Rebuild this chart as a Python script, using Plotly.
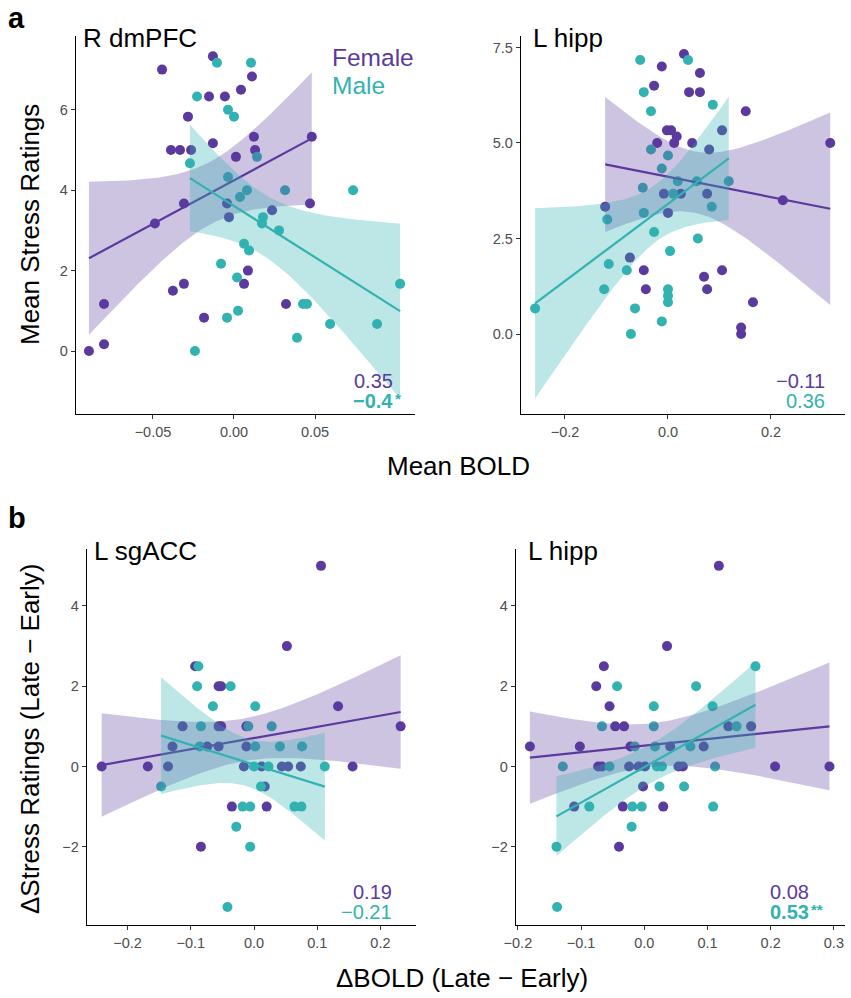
import math
import numpy as np
import plotly.graph_objects as go

# ---------------- data ----------------
# (a) R dmPFC: mean BOLD vs mean stress ratings
dmpfc_f_x = [-0.013, -0.0444, 0.0111, -0.0154, -0.0056, 0.0043, -0.0284, 0.0123, -0.013, -0.0389,
             -0.0333, -0.0265, 0.013, 0.0012, 0.048, -0.0309, -0.0043, -0.0031, -0.0488, 0.0469,
             0.0235, 0.0086, 0.0062, -0.0377, -0.0309, -0.0802, -0.0185, 0.0321, -0.0895, -0.0802]
dmpfc_f_y = [7.33, 7.0, 6.83, 6.33, 6.33, 6.5, 5.83, 5.33, 5.17, 5.0,
             5.0, 5.0, 5.0, 4.83, 5.33, 3.67, 3.67, 3.33, 3.17, 3.67,
             3.5, 2.0, 1.67, 1.5, 1.67, 1.17, 0.83, 1.17, 0.0, 0.17]
dmpfc_m_x = [-0.0105, 0.0105, -0.0228, -0.0037, 0.0, -0.0272, 0.0142, -0.0037, 0.0037, 0.008,
             0.0315, 0.0735, 0.0179, 0.0173, 0.0278, 0.0062, 0.0093, -0.008, 0.0019, -0.0043,
             0.0025, -0.0241, 0.1025, 0.0426, 0.045, 0.0593, 0.0883, 0.0389]
dmpfc_m_y = [7.17, 7.17, 6.33, 6.0, 5.83, 4.67, 4.83, 4.33, 3.83, 4.0,
             4.0, 4.0, 3.33, 3.17, 3.0, 2.67, 2.5, 2.17, 1.83, 0.83,
             1.0, 0.0, 1.67, 1.17, 1.17, 0.67, 0.67, 0.33]

# (a) L hipp
hippa_f_x = [0.031, -0.012, 0.062, -0.027, 0.041, 0.062, 0.151, 0.105, -0.002, 0.006,
             0.017, -0.021, 0.012, 0.047, 0.080, 0.315, -0.008, 0.025, 0.076, 0.223,
             0.0, -0.122, -0.074, -0.047, -0.043, 0.070, 0.076, 0.105, 0.165, 0.142, 0.142]
hippa_f_y = [7.33, 7.0, 6.83, 6.5, 6.33, 6.33, 5.83, 5.33, 5.33, 5.33,
             5.17, 5.0, 5.0, 5.0, 4.83, 5.0, 3.67, 3.67, 3.67, 3.5,
             3.17, 3.33, 2.0, 1.67, 1.17, 1.5, 1.17, 1.67, 0.83, 0.17, 0.0]
hippa_m_x = [-0.054, 0.039, -0.047, -0.033, 0.087, -0.033, 0.0, -0.012, -0.049, 0.019,
             0.056, 0.118, 0.010, 0.085, -0.047, -0.027, -0.118, 0.058, 0.004, -0.115,
             -0.080, -0.124, -0.258, 0.0, 0.0, 0.0, -0.064, -0.012, -0.072]
hippa_m_y = [7.17, 7.17, 6.33, 5.83, 6.0, 4.83, 4.67, 4.33, 3.83, 4.0,
             4.0, 4.0, 3.67, 3.33, 3.17, 2.67, 3.0, 2.5, 2.17, 1.83,
             1.67, 1.17, 0.67, 1.17, 1.0, 0.83, 0.67, 0.33, 0.0]

# (b) L sgACC: change in BOLD vs change in stress ratings
sgacc_f_x = [-0.241, -0.168, -0.136, -0.093, -0.056, -0.052, -0.113, -0.056, -0.052, -0.129,
             -0.074, -0.056, -0.016, -0.035, -0.084, -0.012, -0.012, 0.106, 0.052, 0.133,
             0.232, 0.156, 0.020, 0.017, 0.012, 0.044, 0.054, 0.074]
sgacc_f_y = [0, 0, 0, 2.5, 2, 2, 1, 1, 1, 0.5,
             0.5, 0.5, 0, -1, -2, 1, 0.5, 5, 3, 1.5,
             1, 0, -1, -0.5, 0, 0, 0, 0]
sgacc_m_x = [-0.088, -0.090, -0.037, -0.065, 0.002, -0.084, -0.009, 0.028, -0.086, 0.002,
             0.041, 0.076, -0.147, 0.0, 0.023, 0.112, 0.011, -0.018, -0.006, 0.064,
             0.075, -0.028, -0.006, -0.042]
sgacc_m_y = [2.5, 2, 2, 1.5, 1.5, 1, 1, 1, 0.5, 0.5,
             0.5, 0.5, -0.5, 0, 0, 0, -0.5, -1, -1, -1,
             -1, -1.5, -2, -3.5]

# (b) L hipp
hippb_f_x = [-0.181, -0.102, -0.064, -0.076, -0.055, 0.036, -0.046, -0.032, -0.022, 0.041,
             0.094, -0.073, -0.067, -0.024, -0.009, 0.001, 0.054, 0.061, -0.002, -0.111,
             -0.034, 0.030, -0.040, 0.118, 0.133, 0.169, 0.207, 0.293]
hippb_f_y = [0.5, 0.5, 2.5, 2, 1.5, 3, 1, 1, 0.5, 0.5,
             0.5, 0, 0, 0, 0, 0, 0, 0, -0.5, -1,
             -1, -1, -2, 5, 1, 1, 0, 0]
hippb_m_x = [-0.129, -0.043, 0.082, 0.015, 0.108, -0.067, 0.015, 0.146, -0.015, 0.017,
             0.073, -0.055, 0.020, 0.028, 0.112, 0.024, 0.063, -0.087, -0.019, -0.004,
             0.109, -0.020, -0.139, -0.138, 0.176]
hippb_m_y = [0, 2, 2, 1.5, 1.5, 1, 1, 1, 0.5, 0.5,
             0.5, 0, 0, 0, 0, -0.5, -0.5, -1, -1, -1,
             -1, -1.5, -2, -3.5, 2.5]

# correlation coefficients per panel: (female, male), with significance stars and bold flags
r_female = ["0.35", "−0.11", "0.19", "0.08"]
r_male = ["−0.4", "0.36", "−0.21", "0.53"]
r_male_stars = ["*", "", "", "**"]
r_male_bold = [True, False, False, True]
panel_titles = ["R dmPFC", "L hipp", "L sgACC", "L hipp"]

# tick definitions
xticks = [[-0.05, 0.0, 0.05], [-0.2, 0.0, 0.2], [-0.2, -0.1, 0.0, 0.1, 0.2], [-0.2, -0.1, 0.0, 0.1, 0.2, 0.3]]
xticktext = [["−0.05", "0.00", "0.05"], ["−0.2", "0.0", "0.2"],
             ["−0.2", "−0.1", "0.0", "0.1", "0.2"], ["−0.2", "−0.1", "0.0", "0.1", "0.2", "0.3"]]
yticks = [[0, 2, 4, 6], [0, 2.5, 5, 7.5], [-2, 0, 2, 4], [-2, 0, 2, 4]]
yticktext = [["0", "2", "4", "6"], ["0.0", "2.5", "5.0", "7.5"], ["−2", "0", "2", "4"], ["−2", "0", "2", "4"]]

# ---------------- styling ----------------
W, H = 851, 998
PURPLE = "#5B3A9E"
TEAL = "#33B2B2"
PURPLE_FILL = "rgba(91,58,158,0.30)"
TEAL_FILL = "rgba(51,178,178,0.32)"
FONT = "Liberation Sans, Arial, sans-serif"
TITLE_SIZE = 26

# panel boxes in pixels: (left, right, top, bottom)
boxes = [(76, 415, 36, 414), (521, 845, 36, 414), (87, 416, 549, 925), (516, 845, 549, 925)]
xranges = [[-0.0975, 0.1117], [-0.2854, 0.3437], [-0.2642, 0.2563], [-0.203, 0.3176]]
yranges = [[-1.567, 7.836], [-2.094, 7.80], [-3.95, 5.42], [-3.95, 5.42]]
# right edge (px) of the correlation numbers in each panel
r_right = [394, 826, 393, 810]
# left offset (px) of the panel titles
title_dx = [6, 11, 6, 11]


def px(x):
    return x / W


def py(y):
    return 1 - y / H


def t_crit(df, p=0.975):
    xs = np.linspace(0, 12, 240001)
    c = math.gamma((df + 1) / 2) / (math.sqrt(df * math.pi) * math.gamma(df / 2))
    pdf = c * (1 + xs ** 2 / df) ** (-(df + 1) / 2)
    cdf = 0.5 + np.concatenate([[0], np.cumsum((pdf[1:] + pdf[:-1]) / 2 * np.diff(xs))])
    return float(np.interp(p, cdf, xs))


def lm_fit(x, y, n=80):
    """Least-squares line with a 95% confidence band for the mean."""
    x = np.asarray(x, float)
    y = np.asarray(y, float)
    N = len(x)
    b, a = np.polyfit(x, y, 1)
    resid = y - (a + b * x)
    s = math.sqrt(np.sum(resid ** 2) / (N - 2))
    xm = x.mean()
    sxx = np.sum((x - xm) ** 2)
    xg = np.linspace(x.min(), x.max(), n)
    yg = a + b * xg
    se = s * np.sqrt(1 / N + (xg - xm) ** 2 / sxx)
    t = t_crit(N - 2)
    return xg, yg, yg - t * se, yg + t * se


panels = [
    (dmpfc_f_x, dmpfc_f_y, dmpfc_m_x, dmpfc_m_y),
    (hippa_f_x, hippa_f_y, hippa_m_x, hippa_m_y),
    (sgacc_f_x, sgacc_f_y, sgacc_m_x, sgacc_m_y),
    (hippb_f_x, hippb_f_y, hippb_m_x, hippb_m_y),
]

fig = go.Figure()
annotations = []


def text(x, y, s, size, color, xanchor="left", angle=0):
    annotations.append(dict(x=px(x), y=py(y), xref="paper", yref="paper", text=s, showarrow=False,
                            xanchor=xanchor, yanchor="middle", textangle=angle, borderpad=0,
                            font=dict(family=FONT, size=size, color=color)))


for i, (fx, fy, mx, my) in enumerate(panels):
    xa = "x" if i == 0 else f"x{i + 1}"
    ya = "y" if i == 0 else f"y{i + 1}"
    # scatter points
    for xs_, ys_, col in ((fx, fy, PURPLE), (mx, my, TEAL)):
        fig.add_trace(go.Scatter(x=xs_, y=ys_, mode="markers", xaxis=xa, yaxis=ya,
                                 marker=dict(color=col, size=10, line=dict(width=0)),
                                 showlegend=False, hoverinfo="skip"))
    # linear fits with confidence ribbons
    for xs_, ys_, col, fill in ((fx, fy, PURPLE, PURPLE_FILL), (mx, my, TEAL, TEAL_FILL)):
        xg, yg, lo, hi = lm_fit(xs_, ys_)
        fig.add_trace(go.Scatter(x=np.concatenate([xg, xg[::-1]]), y=np.concatenate([hi, lo[::-1]]),
                                 mode="lines", fill="toself", fillcolor=fill, line=dict(width=0),
                                 xaxis=xa, yaxis=ya, showlegend=False, hoverinfo="skip"))
        fig.add_trace(go.Scatter(x=xg, y=yg, mode="lines", line=dict(color=col, width=2.2),
                                 xaxis=xa, yaxis=ya, showlegend=False, hoverinfo="skip"))

    l, r, t, b = boxes[i]
    axis_common = dict(showgrid=False, zeroline=False, showline=True, linecolor="black", linewidth=1.4,
                       ticks="outside", ticklen=4, tickwidth=1.1, tickcolor="#333333", automargin=False,
                       tickfont=dict(family=FONT, size=14.5, color="#4D4D4D"))
    fig.update_layout(**{
        ("xaxis" if i == 0 else f"xaxis{i + 1}"): dict(
            domain=[px(l), px(r)], anchor=ya, range=xranges[i],
            tickmode="array", tickvals=xticks[i], ticktext=xticktext[i], **axis_common),
        ("yaxis" if i == 0 else f"yaxis{i + 1}"): dict(
            domain=[py(b), py(t)], anchor=xa, range=yranges[i],
            tickmode="array", tickvals=yticks[i], ticktext=yticktext[i], **axis_common),
    })

    # panel title
    text(l + title_dx[i], t + 1.5, panel_titles[i], TITLE_SIZE, "black")
    # correlation values
    rr = r_right[i]
    text(rr, b - 33, r_female[i], 20, PURPLE, xanchor="right")
    male_txt = f"<b>{r_male[i]}</b>" if r_male_bold[i] else r_male[i]
    text(rr, b - 13, male_txt, 20, TEAL, xanchor="right")
    if r_male_stars[i]:
        text(rr, b - 16, f"<b>{r_male_stars[i]}</b>", 15, TEAL, xanchor="left")

# sex legend
text(331, 57, "Female", 24.5, PURPLE)
text(331, 85, "Male", 24.5, TEAL)

# panel letters
text(7, 18, "<b>a</b>", 29, "black")
text(7, 518, "<b>b</b>", 29, "black")

# axis titles
text(30, 225, "Mean Stress Ratings", TITLE_SIZE, "black", xanchor="center", angle=-90)
text(458, 466, "Mean BOLD", TITLE_SIZE, "black", xanchor="center")
text(30, 739, "ΔStress Ratings (Late − Early)", TITLE_SIZE, "black", xanchor="center", angle=-90)
text(462, 978, "ΔBOLD (Late − Early)", TITLE_SIZE, "black", xanchor="center")

fig.update_layout(width=W, height=H, margin=dict(l=0, r=0, t=0, b=0, autoexpand=False),
                  paper_bgcolor="white", plot_bgcolor="white",
                  annotations=annotations, showlegend=False)

fig.write_html("out.html")
